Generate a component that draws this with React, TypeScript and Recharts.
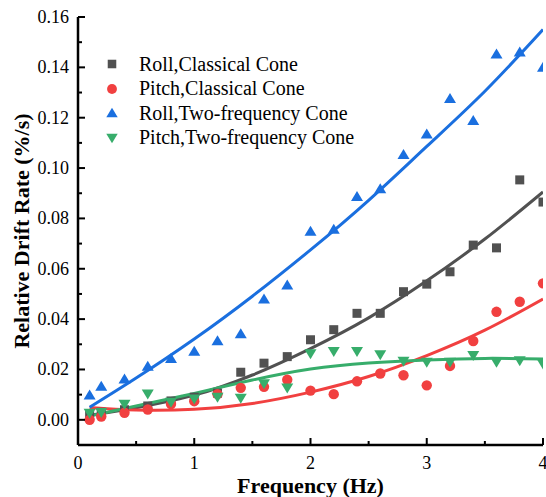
import { ComposedChart, Line, Scatter, XAxis, YAxis, Legend } from 'recharts'

// measured frequencies (Hz)
const FREQ = [0.1, 0.2, 0.4, 0.6, 0.8, 1.0, 1.2, 1.4, 1.6, 1.8, 2.0, 2.2, 2.4, 2.6, 2.8, 3.0, 3.2, 3.4, 3.6, 3.8, 4.0]

const ROLL_CLASSICAL = [0.0021, 0.003, 0.004, 0.0055, 0.0075, 0.009, 0.0106, 0.0189, 0.0225, 0.0251, 0.0318, 0.0358, 0.0423, 0.0423, 0.0509, 0.0539, 0.0588, 0.0694, 0.0683, 0.0953, 0.0865]
const PITCH_CLASSICAL = [0.0, 0.0013, 0.0028, 0.0041, 0.0063, 0.0074, 0.0102, 0.0127, 0.0131, 0.0159, 0.0116, 0.0102, 0.0153, 0.0184, 0.0177, 0.0137, 0.0214, 0.0313, 0.0429, 0.0469, 0.0542]
const ROLL_TWO_FREQ = [0.0099, 0.0133, 0.0162, 0.0213, 0.0244, 0.0272, 0.0314, 0.0342, 0.048, 0.0536, 0.0749, 0.0757, 0.0887, 0.0918, 0.1054, 0.1135, 0.1276, 0.1189, 0.1453, 0.1461, 0.140]
const PITCH_TWO_FREQ = [0.0026, 0.0029, 0.0062, 0.0103, 0.007, 0.0083, 0.009, 0.0086, 0.0143, 0.0126, 0.0262, 0.0271, 0.0271, 0.0258, 0.0233, 0.0229, 0.0229, 0.0255, 0.0229, 0.0235, 0.0222]

// fitted curves
const FIT_X = [0.1, 0.5, 1.0, 1.5, 2.0, 2.5, 3.0, 3.5, 4.0]
const ROLL_CLASSICAL_FIT = [0.0018, 0.0048, 0.0098, 0.0178, 0.0283, 0.0405, 0.0552, 0.0718, 0.0905]
const PITCH_CLASSICAL_FIT = [0.0049, 0.0039, 0.0042, 0.0065, 0.011, 0.0172, 0.0255, 0.0356, 0.048]
const ROLL_TWO_FREQ_FIT = [0.005, 0.0166, 0.0321, 0.0491, 0.0675, 0.0872, 0.1086, 0.1305, 0.155]
const PITCH_TWO_FREQ_FIT = [0.0015, 0.0055, 0.0105, 0.0158, 0.0202, 0.0226, 0.0238, 0.0244, 0.0242]

const X_TICKS = [0, 0.5, 1, 1.5, 2, 2.5, 3, 3.5, 4]
const Y_TICKS = [0, 0.01, 0.02, 0.03, 0.04, 0.05, 0.06, 0.07, 0.08, 0.09, 0.1, 0.11, 0.12, 0.13, 0.14, 0.15, 0.16]

const FONT = '"Liberation Serif", "Times New Roman", serif'
const MAJOR = 7
const MINOR = 4

const SERIES = [
  { name: 'Roll,Classical Cone', color: '#515151', kind: 'square', values: ROLL_CLASSICAL, fit: ROLL_CLASSICAL_FIT },
  { name: 'Pitch,Classical Cone', color: '#F14040', kind: 'circle', values: PITCH_CLASSICAL, fit: PITCH_CLASSICAL_FIT },
  { name: 'Roll,Two-frequency Cone', color: '#1A6FDF', kind: 'up', values: ROLL_TWO_FREQ, fit: ROLL_TWO_FREQ_FIT },
  { name: 'Pitch,Two-frequency Cone', color: '#37AD6B', kind: 'down', values: PITCH_TWO_FREQ, fit: PITCH_TWO_FREQ_FIT },
]

const toPoints = (xs: number[], ys: number[]) => xs.map((x, i) => ({ x, y: ys[i] }))

function Marker({ kind, cx, cy, color, s = 1 }: { kind: string; cx: number; cy: number; color: string; s?: number }) {
  if (kind === 'square') return <rect x={cx - 4.5 * s} y={cy - 4.5 * s} width={9 * s} height={9 * s} fill={color} />
  if (kind === 'circle') return <circle cx={cx} cy={cy} r={5.2 * s} fill={color} />
  if (kind === 'up')
    return <polygon points={`${cx},${cy - 5.5 * s} ${cx + 6 * s},${cy + 4.5 * s} ${cx - 6 * s},${cy + 4.5 * s}`} fill={color} />
  return <polygon points={`${cx - 6 * s},${cy - 4.5 * s} ${cx + 6 * s},${cy - 4.5 * s} ${cx},${cy + 5.5 * s}`} fill={color} />
}

const isMajorY = (v: number) => Math.round(v * 100) % 2 === 0

function BottomTick(p: any) {
  const v = p.payload.value
  const major = Number.isInteger(v)
  const axisY = p.y - 18
  return (
    <g>
      <line x1={p.x} x2={p.x} y1={axisY} y2={axisY - (major ? MAJOR : MINOR)} stroke="#000" strokeWidth={2} />
      {major && (
        <text x={p.x} y={p.y} textAnchor="middle" dominantBaseline="central" fontFamily={FONT} fontSize={18} fill="#000">
          {v}
        </text>
      )}
    </g>
  )
}

function TopTick(p: any) {
  const major = Number.isInteger(p.payload.value)
  return <line x1={p.x} x2={p.x} y1={p.y} y2={p.y + (major ? MAJOR : MINOR)} stroke="#000" strokeWidth={2} />
}

function LeftTick(p: any) {
  const v = p.payload.value
  const major = isMajorY(v)
  const axisX = p.x + 9
  return (
    <g>
      <line x1={axisX} x2={axisX + (major ? MAJOR : MINOR)} y1={p.y} y2={p.y} stroke="#000" strokeWidth={2} />
      {major && (
        <text x={p.x} y={p.y} textAnchor="end" dominantBaseline="central" fontFamily={FONT} fontSize={18} fill="#000">
          {v.toFixed(2)}
        </text>
      )}
    </g>
  )
}

function RightTick(p: any) {
  const major = isMajorY(p.payload.value)
  return <line x1={p.x} x2={p.x - (major ? MAJOR : MINOR)} y1={p.y} y2={p.y} stroke="#000" strokeWidth={2} />
}

function LegendBox() {
  return (
    <div style={{ fontFamily: FONT, fontSize: 20, color: '#000' }}>
      {SERIES.map(s => (
        <div key={s.name} style={{ display: 'flex', alignItems: 'center', height: 24.5, whiteSpace: 'nowrap' }}>
          <svg width={24} height={16}>
            <Marker kind={s.kind} cx={12} cy={8} color={s.color} s={0.95} />
          </svg>
          <span style={{ marginLeft: 15 }}>{s.name}</span>
        </div>
      ))}
    </div>
  )
}

const axisLine = { stroke: '#000', strokeWidth: 2.5 }

export default function App() {
  return (
    <div style={{ position: 'absolute', left: 0, top: 0, width: 546, height: 497, background: '#fff' }}>
      <ComposedChart width={546} height={497} margin={{ top: 17, right: 3, bottom: 0, left: 0 }}>
        <XAxis
          dataKey="x" type="number" domain={[0, 4]} ticks={X_TICKS} interval={0} allowDataOverflow
          height={52} tickSize={0} tickMargin={18} tickLine={false} axisLine={axisLine}
          tick={(p: any) => <BottomTick {...p} />}
          label={{
            content: (lp: any) => (
              <text x={lp.viewBox.x + lp.viewBox.width / 2} y={lp.viewBox.y + 40} textAnchor="middle" dominantBaseline="central"
                fontFamily={FONT} fontSize={22} fontWeight="bold" fill="#000">Frequency (Hz)</text>
            ),
          }}
        />
        <XAxis
          xAxisId="top" orientation="top" type="number" domain={[0, 4]} ticks={X_TICKS} interval={0}
          height={0} tickSize={0} tickMargin={0} tickLine={false} axisLine={axisLine}
          tick={(p: any) => <TopTick {...p} />}
        />
        <YAxis
          type="number" domain={[-0.01, 0.16]} ticks={Y_TICKS} interval={0} allowDataOverflow
          width={78} tickSize={0} tickMargin={9} tickLine={false} axisLine={axisLine}
          tick={(p: any) => <LeftTick {...p} />}
          label={{
            content: (lp: any) => {
              const cx = lp.viewBox.x + 21
              const cy = lp.viewBox.y + lp.viewBox.height / 2
              return (
                <text x={cx} y={cy} transform={`rotate(-90, ${cx}, ${cy})`} textAnchor="middle" dominantBaseline="central"
                  fontFamily={FONT} fontSize={22} fontWeight="bold" fill="#000">Relative Drift Rate (%/s)</text>
              )
            },
          }}
        />
        <YAxis
          yAxisId="right" orientation="right" type="number" domain={[-0.01, 0.16]} ticks={Y_TICKS} interval={0}
          width={0} tickSize={0} tickMargin={0} tickLine={false} axisLine={axisLine}
          tick={(p: any) => <RightTick {...p} />}
        />
        <Legend
          layout="vertical" align="center" verticalAlign="middle"
          wrapperStyle={{ left: 100, top: 52, width: 320 }}
          content={() => <LegendBox />}
        />
        {SERIES.map(s => (
          <Scatter
            key={s.name + '-pts'}
            name={s.name}
            data={toPoints(FREQ, s.values)}
            dataKey="y"
            isAnimationActive={false}
            shape={(p: any) => <Marker kind={s.kind} cx={p.cx} cy={p.cy} color={s.color} />}
          />
        ))}
        {SERIES.map(s => (
          <Line
            key={s.name + '-fit'}
            data={toPoints(FIT_X, s.fit)}
            dataKey="y"
            type="natural"
            stroke={s.color}
            strokeWidth={3}
            dot={false}
            activeDot={false}
            legendType="none"
            isAnimationActive={false}
          />
        ))}
      </ComposedChart>
    </div>
  )
}
